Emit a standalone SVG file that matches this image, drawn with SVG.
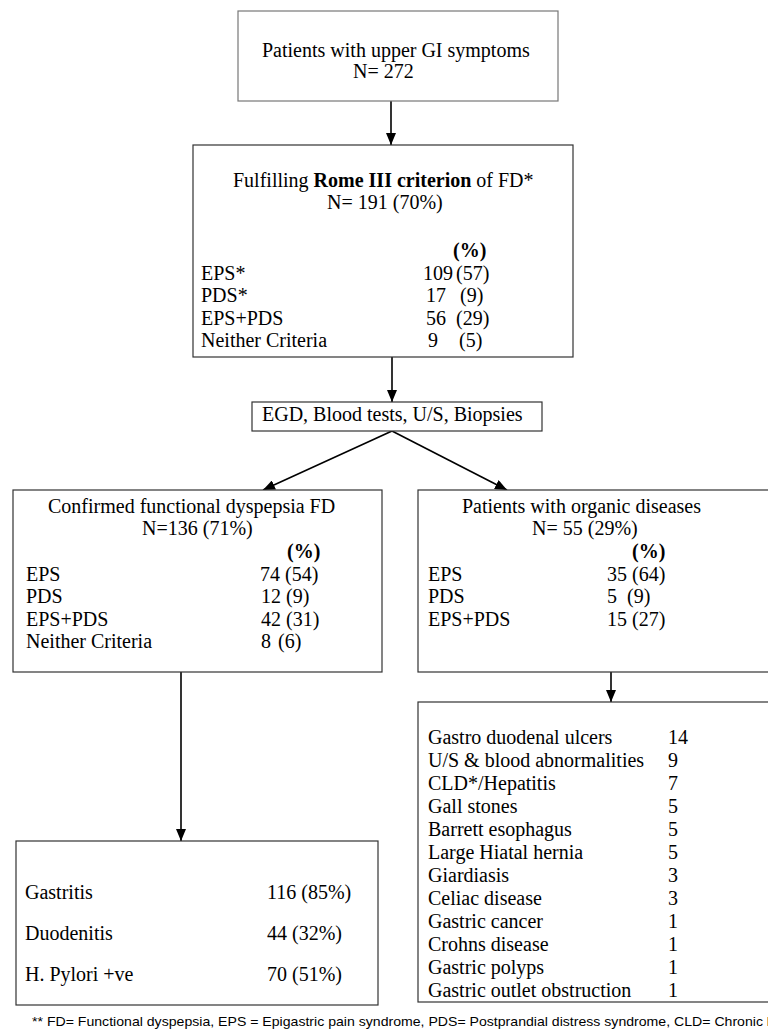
<svg xmlns="http://www.w3.org/2000/svg" width="768" height="1036" viewBox="0 0 768 1036">
<style>
.t{font-family:"Liberation Serif","Times New Roman",serif;font-size:20px;fill:#000}
.b{font-weight:bold}
.box{fill:#fff;stroke:#333;stroke-width:1.2}
.box1{fill:#fff;stroke:#777;stroke-width:1.2}
.con{stroke:#000;stroke-width:1.6;fill:none;marker-end:url(#ah)}
.foot{font-family:"Liberation Sans",Arial,sans-serif;font-size:13.5px;fill:#000}
</style>
<defs>
<marker id="ah" viewBox="0 0 12 10" refX="12" refY="5" markerWidth="12" markerHeight="10" markerUnits="userSpaceOnUse" orient="auto">
<path d="M0,0 L12,5 L0,10 z" fill="#000"/>
</marker>
</defs>
<rect width="768" height="1036" fill="#fff"/>

<g id="connectors">
<line class="con" x1="391" y1="101" x2="391" y2="145"/>
<line class="con" x1="392" y1="357" x2="392" y2="402"/>
<line class="con" x1="392" y1="431" x2="263" y2="490"/>
<line class="con" x1="392" y1="431" x2="507" y2="490"/>
<line class="con" x1="181" y1="672" x2="181" y2="841"/>
<line class="con" x1="611" y1="672" x2="611" y2="702"/>
</g>

<g id="n1">
<rect class="box1" x="238" y="11" width="320" height="90"/>
<text class="t" x="262" y="57">Patients with upper GI symptoms</text>
<text class="t" x="353" y="78">N= 272</text>
</g>

<g id="n2">
<rect class="box" x="193" y="145" width="380" height="212"/>
<text class="t" x="233" y="187">Fulfilling <tspan class="b">Rome III criterion</tspan> of FD*</text>
<text class="t" x="327" y="209">N= 191 (70%)</text>
<text class="t b" x="453" y="257">(%)</text>
<text class="t" x="201" y="280">EPS*</text>
<text class="t" x="423" y="280">109 <tspan x="456">(57)</tspan></text>
<text class="t" x="201" y="302">PDS*</text>
<text class="t" x="426" y="302">17<tspan x="460">(9)</tspan></text>
<text class="t" x="201" y="325">EPS+PDS</text>
<text class="t" x="426" y="325">56<tspan x="456">(29)</tspan></text>
<text class="t" x="201" y="347">Neither Criteria</text>
<text class="t" x="428" y="347">9<tspan x="459">(5)</tspan></text>
</g>

<g id="n3">
<rect class="box" x="252" y="402" width="290" height="29"/>
<text class="t" x="262" y="421">EGD, Blood tests, U/S, Biopsies</text>
</g>

<g id="n4">
<rect class="box" x="13" y="490" width="369" height="182"/>
<text class="t" x="48" y="513">Confirmed functional dyspepsia FD</text>
<text class="t" x="142" y="535">N=136 (71%)</text>
<text class="t b" x="287" y="558">(%)</text>
<text class="t" x="26" y="581">EPS</text>
<text class="t" x="260" y="581">74 (54)</text>
<text class="t" x="26" y="603">PDS</text>
<text class="t" x="261" y="603">12 (9)</text>
<text class="t" x="26" y="626">EPS+PDS</text>
<text class="t" x="261" y="626">42 (31)</text>
<text class="t" x="26" y="648">Neither Criteria</text>
<text class="t" x="261" y="648">8<tspan x="278">(6)</tspan></text>
</g>

<g id="n5">
<rect class="box" x="418" y="490" width="400" height="182"/>
<text class="t" x="462" y="513">Patients with organic diseases</text>
<text class="t" x="532" y="535">N= 55 (29%)</text>
<text class="t b" x="632" y="558">(%)</text>
<text class="t" x="428" y="581">EPS</text>
<text class="t" x="607" y="581">35 (64)</text>
<text class="t" x="428" y="603">PDS</text>
<text class="t" x="607" y="603">5<tspan x="627">(9)</tspan></text>
<text class="t" x="428" y="626">EPS+PDS</text>
<text class="t" x="607" y="626">15 (27)</text>
</g>

<g id="n6">
<rect class="box" x="418" y="702" width="400" height="300"/>
<text class="t" x="428" y="744">Gastro duodenal ulcers</text><text class="t" x="668" y="744">14</text>
<text class="t" x="428" y="767">U/S &amp; blood abnormalities</text><text class="t" x="668" y="767">9</text>
<text class="t" x="428" y="790">CLD*/Hepatitis</text><text class="t" x="668" y="790">7</text>
<text class="t" x="428" y="813">Gall stones</text><text class="t" x="668" y="813">5</text>
<text class="t" x="428" y="836">Barrett esophagus</text><text class="t" x="668" y="836">5</text>
<text class="t" x="428" y="859">Large Hiatal hernia</text><text class="t" x="668" y="859">5</text>
<text class="t" x="428" y="882">Giardiasis</text><text class="t" x="668" y="882">3</text>
<text class="t" x="428" y="905">Celiac disease</text><text class="t" x="668" y="905">3</text>
<text class="t" x="428" y="928">Gastric cancer</text><text class="t" x="668" y="928">1</text>
<text class="t" x="428" y="951">Crohns disease</text><text class="t" x="668" y="951">1</text>
<text class="t" x="428" y="974">Gastric polyps</text><text class="t" x="668" y="974">1</text>
<text class="t" x="428" y="997">Gastric outlet obstruction</text><text class="t" x="668" y="997">1</text>
</g>

<g id="n7">
<rect class="box" x="16" y="841" width="362" height="164"/>
<text class="t" x="25" y="899">Gastritis</text><text class="t" x="267" y="899">116 (85%)</text>
<text class="t" x="25" y="940">Duodenitis</text><text class="t" x="267" y="940">44 (32%)</text>
<text class="t" x="25" y="981">H. Pylori +ve</text><text class="t" x="267" y="981">70 (51%)</text>
</g>

<g id="footnote">
<text class="foot" x="32" y="1026" textLength="738" lengthAdjust="spacingAndGlyphs">**  FD= Functional dyspepsia, EPS = Epigastric pain syndrome, PDS= Postprandial distress syndrome, CLD= Chronic l</text>
</g>
</svg>
